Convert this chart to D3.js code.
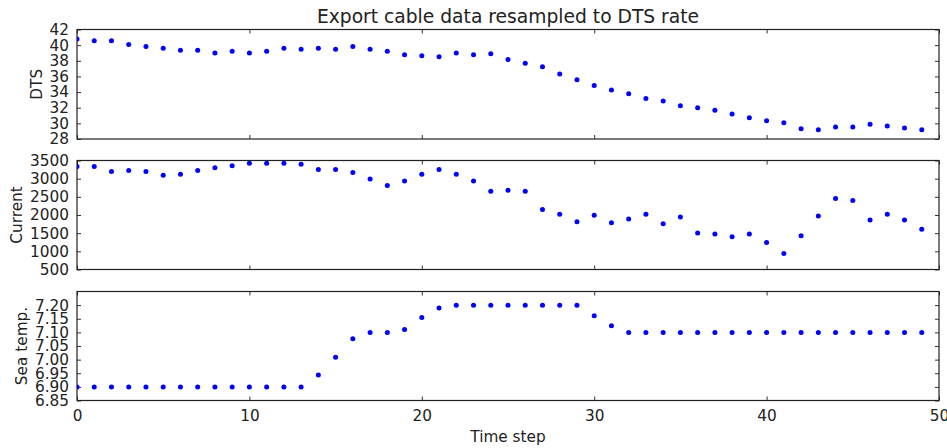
<!DOCTYPE html>
<html>
<head>
<meta charset="utf-8">
<script src="https://cdn.jsdelivr.net/npm/d3@7"></script>
<style>
  html, body { margin: 0; padding: 0; background: #fff; }
  svg { display: block; font-family: "DejaVu Sans", sans-serif; }
  .tick text { fill: #222; }
</style>
</head>
<body>
<svg id="chart" width="947" height="448"></svg>
<script>
// Time steps and the three resampled series
const timeSteps = d3.range(0, 50);

const dtsValues = [
  40.77, 40.55, 40.55, 40.09, 39.83, 39.60, 39.36, 39.36, 39.00, 39.23,
  39.00, 39.23, 39.60, 39.49, 39.60, 39.49, 39.83, 39.49, 39.23, 38.77,
  38.64, 38.51, 39.00, 38.77, 38.89, 38.17, 37.70, 37.23, 36.30, 35.57,
  34.85, 34.26, 33.79, 33.19, 32.85, 32.26, 32.00, 31.66, 31.19, 30.72,
  30.34, 30.09, 29.32, 29.19, 29.53, 29.53, 29.87, 29.66, 29.40, 29.19
];

const currentValues = [
  3334, 3334, 3196, 3224, 3196, 3095, 3123, 3224, 3298, 3353,
  3426, 3426, 3426, 3399, 3252, 3252, 3169, 2994, 2810, 2939,
  3123, 3252, 3123, 2939, 2654, 2681, 2654, 2148, 2019, 1816,
  1991, 1789, 1890, 2019, 1761, 1945, 1504, 1476, 1402, 1476,
  1246, 942, 1430, 1973, 2451, 2396, 1862, 2019, 1862, 1605
];

const seaTempValues = [
  6.90, 6.90, 6.90, 6.90, 6.90, 6.90, 6.90, 6.90, 6.90, 6.90,
  6.90, 6.90, 6.90, 6.90, 6.944, 7.009, 7.077, 7.10, 7.10, 7.111,
  7.155, 7.189, 7.20, 7.20, 7.20, 7.20, 7.20, 7.20, 7.20, 7.20,
  7.161, 7.124, 7.10, 7.10, 7.10, 7.10, 7.10, 7.10, 7.10, 7.10,
  7.10, 7.10, 7.10, 7.10, 7.10, 7.10, 7.10, 7.10, 7.10, 7.10
];

const xTicks = [0, 10, 20, 30, 40, 50];
const dtsTicks = [28, 30, 32, 34, 36, 38, 40, 42];
const currentTicks = [500, 1000, 1500, 2000, 2500, 3000, 3500];
const seaTempTicks = [6.85, 6.90, 6.95, 7.00, 7.05, 7.10, 7.15, 7.20];

const titleText = "Export cable data resampled to DTS rate";
const xLabelText = "Time step";

const panels = [
  { label: "DTS", values: dtsValues, domain: [28, 42], ticks: dtsTicks, fmt: d3.format("d"), top: 29.5, bottom: 139 },
  { label: "Current", values: currentValues, domain: [500, 3500], ticks: currentTicks, fmt: d3.format("d"), top: 160.5, bottom: 269.5 },
  { label: "Sea temp.", values: seaTempValues, domain: [6.85, 7.25], ticks: seaTempTicks, fmt: d3.format(".2f"), top: 291.5, bottom: 400.5 }
];

const left = 77, right = 939;
const tickLen = 4;
const fontSize = 15.3;
const titleSize = 18.7;

const svg = d3.select("#chart");
const x = d3.scaleLinear().domain([0, 50]).range([left, right]);

panels.forEach((p, i) => {
  const y = d3.scaleLinear().domain(p.domain).range([p.bottom, p.top]);
  const g = svg.append("g");
  const isLast = i === panels.length - 1;

  const clipId = "clip" + i;
  svg.append("clipPath").attr("id", clipId)
    .append("rect")
    .attr("x", left).attr("y", p.top)
    .attr("width", right - left).attr("height", p.bottom - p.top);

  // Inward ticks on all four sides
  const yLeft = d3.axisLeft(y).tickValues(p.ticks).tickFormat(p.fmt).tickSizeInner(-tickLen).tickSizeOuter(0).tickPadding(8);
  const yRight = d3.axisRight(y).tickValues(p.ticks).tickFormat("").tickSizeInner(-tickLen).tickSizeOuter(0);
  const xBottom = d3.axisBottom(x).tickValues(xTicks).tickFormat(isLast ? d3.format("d") : "").tickSizeInner(-tickLen).tickSizeOuter(0).tickPadding(10);
  const xTop = d3.axisTop(x).tickValues(xTicks).tickFormat("").tickSizeInner(-tickLen).tickSizeOuter(0);

  const yAxisG = g.append("g").attr("transform", `translate(${left},0)`).call(yLeft);
  g.append("g").attr("transform", `translate(${right},0)`).call(yRight);
  g.append("g").attr("transform", `translate(0,${p.bottom})`).call(xBottom);
  g.append("g").attr("transform", `translate(0,${p.top})`).call(xTop);

  g.selectAll(".domain").remove();
  g.selectAll(".tick line").attr("stroke", "#333").attr("stroke-width", 1);
  g.selectAll(".tick text").attr("font-size", fontSize).attr("font-family", "DejaVu Sans");

  // Frame
  g.append("rect")
    .attr("x", left).attr("y", p.top)
    .attr("width", right - left).attr("height", p.bottom - p.top)
    .attr("fill", "none").attr("stroke", "#222").attr("stroke-width", 1.2);

  // Points
  g.append("g").attr("clip-path", `url(#${clipId})`)
    .selectAll("circle")
    .data(p.values)
    .join("circle")
    .attr("cx", (d, j) => x(timeSteps[j]))
    .attr("cy", d => y(d))
    .attr("r", 2.5)
    .attr("fill", "#0000ff");

  // Y label placed just left of the tick labels (baseline leaves room for descenders)
  let minX = Infinity;
  yAxisG.selectAll(".tick text").each(function () {
    const b = this.getBBox();
    minX = Math.min(minX, b.x);
  });
  const labelX = left + minX - 8;
  g.append("text")
    .attr("transform", `translate(${labelX},${(p.top + p.bottom) / 2}) rotate(-90)`)
    .attr("text-anchor", "middle")
    .attr("font-size", fontSize)
    .attr("fill", "#222")
    .text(p.label);

  if (i === 0) {
    svg.append("text")
      .attr("x", (left + right) / 2).attr("y", p.top - 6.5)
      .attr("text-anchor", "middle")
      .attr("font-size", titleSize)
      .attr("fill", "#222")
      .text(titleText);
  }
  if (isLast) {
    svg.append("text")
      .attr("x", (left + right) / 2).attr("y", 442)
      .attr("text-anchor", "middle")
      .attr("font-size", fontSize)
      .attr("fill", "#222")
      .text(xLabelText);
  }
});
</script>
</body>
</html>
